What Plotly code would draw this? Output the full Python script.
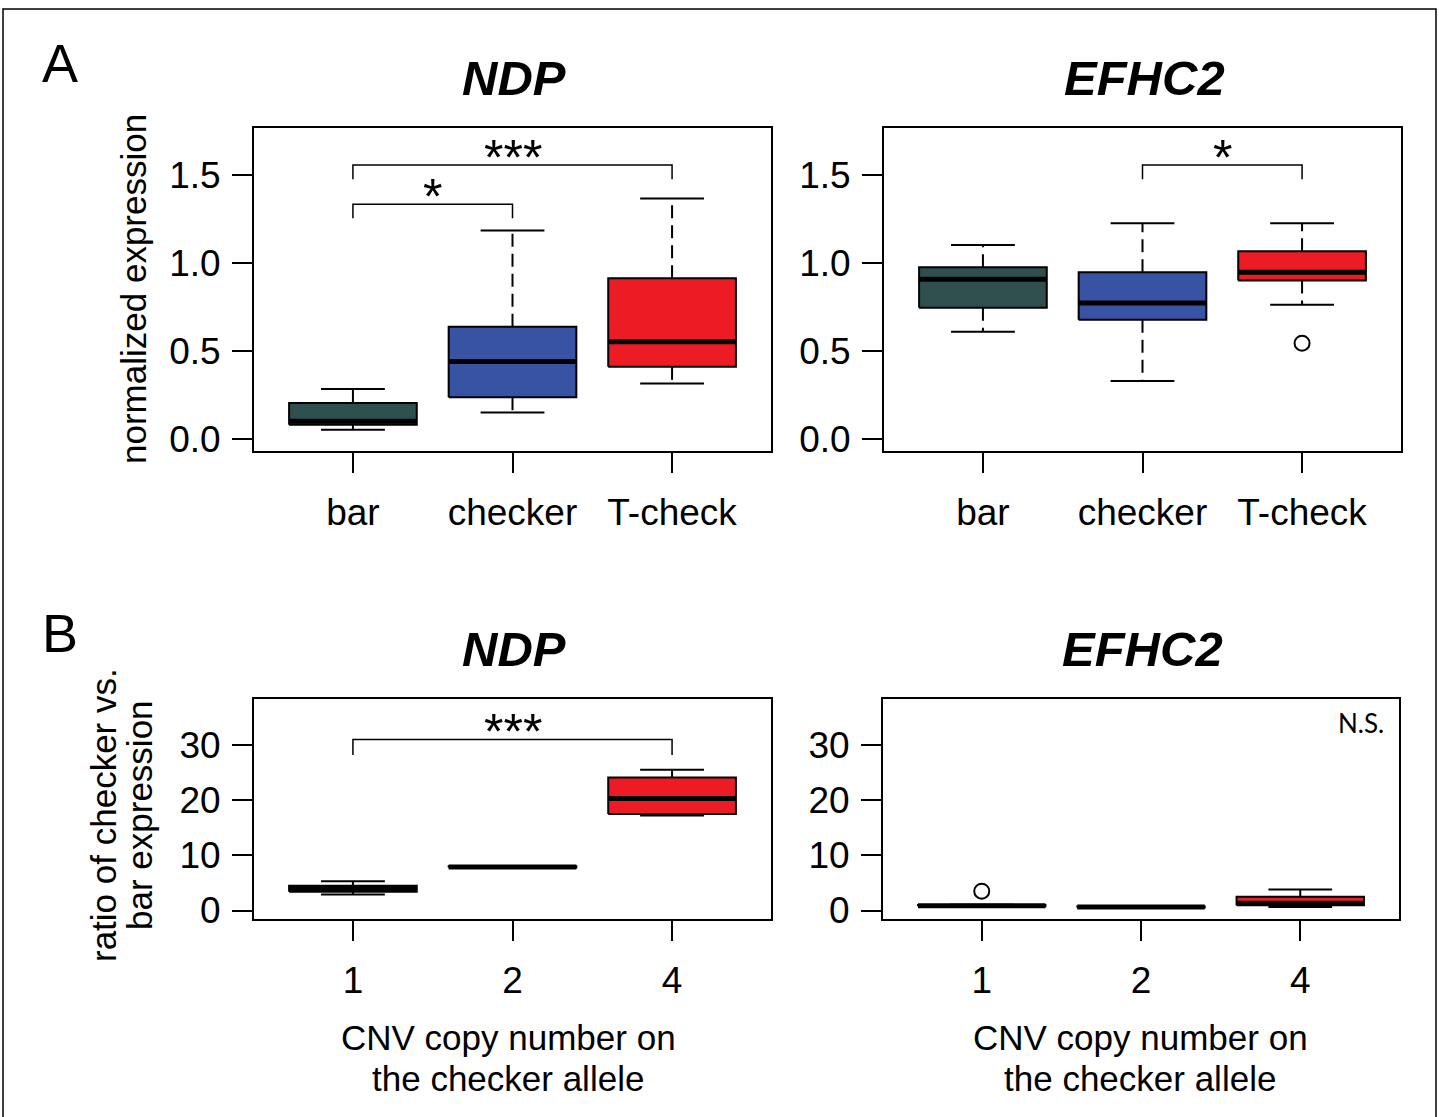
import plotly.graph_objects as go

W, H = 1439, 1117
FONT = "Liberation Sans, Arial, Helvetica, sans-serif"

# ---------------- data ----------------
groups_a = ["bar", "checker", "T-check"]
groups_b = ["1", "2", "4"]
group_colors = ["#2F4F4F", "#3953A4", "#ED1C24"]

# Panel A, NDP (normalized expression)
ndp_a_low = [0.055, 0.152, 0.316]
ndp_a_q1 = [0.083, 0.239, 0.411]
ndp_a_med = [0.102, 0.441, 0.553]
ndp_a_q3 = [0.206, 0.638, 0.913]
ndp_a_high = [0.286, 1.184, 1.365]
ndp_a_out = [[], [], []]

# Panel A, EFHC2 (normalized expression)
efhc2_a_low = [0.610, 0.331, 0.763]
efhc2_a_q1 = [0.746, 0.678, 0.900]
efhc2_a_med = [0.907, 0.773, 0.947]
efhc2_a_q3 = [0.975, 0.947, 1.066]
efhc2_a_high = [1.102, 1.225, 1.225]
efhc2_a_out = [[], [], [0.545]]

# Panel B, NDP (ratio checker vs bar)
ndp_b_low = [2.9, 7.8, 17.2]
ndp_b_q1 = [3.4, 7.8, 17.5]
ndp_b_med = [3.96, 7.9, 20.3]
ndp_b_q3 = [4.5, 8.0, 24.1]
ndp_b_high = [5.3, 8.0, 25.5]
ndp_b_out = [[], [], []]

# Panel B, EFHC2 (ratio checker vs bar)
efhc2_b_low = [0.70, 0.50, 0.64]
efhc2_b_q1 = [0.75, 0.55, 0.95]
efhc2_b_med = [0.87, 0.64, 1.30]
efhc2_b_q3 = [1.00, 0.72, 2.50]
efhc2_b_high = [1.05, 0.75, 3.80]
efhc2_b_out = [[3.5], [], []]

# significance brackets: (group index from, group index to, height, label)
ndp_a_sig = [(0, 1, 1.333, "*"), (0, 2, 1.555, "***")]
efhc2_a_sig = [(1, 2, 1.555, "*")]
ndp_b_sig = [(0, 2, 31.0, "***")]
efhc2_b_sig = []

a_ticks = [0.0, 0.5, 1.0, 1.5]
a_ticklabels = ["0.0", "0.5", "1.0", "1.5"]
b_ticks = [0, 10, 20, 30]
b_ticklabels = ["0", "10", "20", "30"]

# ---------------- figure ----------------
fig = go.Figure()

BOXW = 0.4   # half box width (R boxwex 0.8)
CAPW = 0.2   # half cap width


def add_panel(fig, ax, low, q1, med, q3, high, outs, sig, drop):
    xr, yr = "x" + ax, "y" + ax
    for i in range(len(med)):
        xc = i + 1
        col = group_colors[i]
        # whiskers (dashed)
        fig.add_trace(go.Scatter(
            x=[xc, xc, None, xc, xc], y=[q3[i], high[i], None, q1[i], low[i]],
            mode="lines", line=dict(color="black", width=2, dash="13px,7px"),
            xaxis=xr, yaxis=yr, showlegend=False, hoverinfo="skip"))
        # caps
        fig.add_trace(go.Scatter(
            x=[xc - CAPW, xc + CAPW, None, xc - CAPW, xc + CAPW],
            y=[high[i], high[i], None, low[i], low[i]],
            mode="lines", line=dict(color="black", width=2),
            xaxis=xr, yaxis=yr, showlegend=False, hoverinfo="skip"))
        # box
        fig.add_trace(go.Scatter(
            x=[xc - BOXW, xc + BOXW, xc + BOXW, xc - BOXW, xc - BOXW],
            y=[q1[i], q1[i], q3[i], q3[i], q1[i]],
            mode="lines", fill="toself", fillcolor=col,
            line=dict(color="black", width=2),
            xaxis=xr, yaxis=yr, showlegend=False, hoverinfo="skip"))
        # median
        fig.add_trace(go.Scatter(
            x=[xc - BOXW, xc + BOXW], y=[med[i], med[i]],
            mode="lines", line=dict(color="black", width=5),
            xaxis=xr, yaxis=yr, showlegend=False, hoverinfo="skip"))
        # outliers
        if outs[i]:
            fig.add_trace(go.Scatter(
                x=[xc] * len(outs[i]), y=outs[i], mode="markers",
                marker=dict(symbol="circle-open", size=15, color="black",
                            line=dict(width=2)),
                xaxis=xr, yaxis=yr, showlegend=False, hoverinfo="skip"))
    for a, b, h, lab in sig:
        xa, xb = a + 1, b + 1
        fig.add_trace(go.Scatter(
            x=[xa, xa, xb, xb], y=[h - drop, h, h, h - drop],
            mode="lines", line=dict(color="black", width=1.5),
            xaxis=xr, yaxis=yr, showlegend=False, hoverinfo="skip"))
        fig.add_annotation(x=(xa + xb) / 2, y=h, xref=xr, yref=yr,
                           text=lab, showarrow=False, xanchor="center",
                           yanchor="middle", yshift=7,
                           font=dict(family=FONT, size=50, color="black"))


add_panel(fig, "", ndp_a_low, ndp_a_q1, ndp_a_med, ndp_a_q3, ndp_a_high,
          ndp_a_out, ndp_a_sig, 0.08)
add_panel(fig, "2", efhc2_a_low, efhc2_a_q1, efhc2_a_med, efhc2_a_q3,
          efhc2_a_high, efhc2_a_out, efhc2_a_sig, 0.08)
add_panel(fig, "3", ndp_b_low, ndp_b_q1, ndp_b_med, ndp_b_q3, ndp_b_high,
          ndp_b_out, ndp_b_sig, 2.8)
add_panel(fig, "4", efhc2_b_low, efhc2_b_q1, efhc2_b_med, efhc2_b_q3,
          efhc2_b_high, efhc2_b_out, efhc2_b_sig, 2.8)


def px_x(a, b):
    return [a / W, b / W]


def px_y(top, bottom):
    return [1 - bottom / H, 1 - top / H]


common_axis = dict(showline=True, linewidth=2, linecolor="black", mirror=True,
                   ticks="outside", ticklen=20, tickwidth=2, tickcolor="black",
                   showgrid=False, zeroline=False, automargin=False,
                   tickfont=dict(family=FONT, size=37, color="black"))

xr = [0.38, 3.62]
ya_range = [-0.066, 1.765]
yb_range = [-1.54, 38.34]

layout_axes = {}
specs = [
    ("", px_x(254, 771), px_y(128, 451), groups_a, ya_range, a_ticks, a_ticklabels),
    ("2", px_x(884, 1401), px_y(128, 451), groups_a, ya_range, a_ticks, a_ticklabels),
    ("3", px_x(254, 771), px_y(699, 919), groups_b, yb_range, b_ticks, b_ticklabels),
    ("4", px_x(883, 1399), px_y(699, 919), groups_b, yb_range, b_ticks, b_ticklabels),
]
for ax, xd, yd, cats, yrng, yt, ytl in specs:
    layout_axes["xaxis" + ax] = dict(
        common_axis, domain=xd, range=xr, tickvals=[1, 2, 3], ticktext=cats,
        anchor="y" + ax, ticklabelstandoff=8)
    layout_axes["yaxis" + ax] = dict(
        common_axis, domain=yd, range=yrng, tickvals=yt, ticktext=ytl,
        anchor="x" + ax, ticklabelstandoff=4)

fig.update_layout(
    width=W, height=H,
    margin=dict(l=0, r=0, t=0, b=0, pad=0, autoexpand=False),
    paper_bgcolor="white", plot_bgcolor="white", showlegend=False,
    **layout_axes)


def ann(x, y, text, size, **kw):
    fig.add_annotation(x=x / W, y=1 - y / H, xref="paper", yref="paper",
                       text=text, showarrow=False, xanchor="center",
                       yanchor="middle",
                       font=dict(family=FONT, size=size, color="black"), **kw)


# panel letters and titles
ann(60, 63, "A", 54)
ann(60, 633, "B", 54)
ann(514, 78, "<b><i>NDP</i></b>", 49)
ann(1144, 78, "<b><i>EFHC2</i></b>", 49)
ann(514, 649, "<b><i>NDP</i></b>", 49)
ann(1142, 649, "<b><i>EFHC2</i></b>", 49)

# y-axis titles
ann(133, 289, "normalized expression", 35, textangle=-90)
ann(103, 815, "ratio of checker vs.", 35, textangle=-90)
ann(139, 815, "bar expression", 35, textangle=-90)

# x-axis titles (panel B)
for cx in (508, 1140):
    ann(cx, 1037, "CNV copy number on", 35)
    ann(cx, 1078, "the checker allele", 35)

# N.S. label
fig.add_annotation(x=3.38, y=34.0, xref="x4", yref="y4", text="N.S.",
                   showarrow=False, xanchor="center", yanchor="middle",
                   font=dict(family="Lato, Open Sans, sans-serif", size=26,
                             color="black"))

# outer frame
fig.add_shape(type="rect", xref="paper", yref="paper",
              x0=3 / W, x1=1436 / W, y0=-0.05, y1=1 - 9 / H,
              line=dict(color="black", width=1.5), fillcolor="rgba(0,0,0,0)")

fig.write_html(
    "out.html",
    config={"displayModeBar": False},
    post_script=(
        "document.documentElement.style.margin='0px';"
        "document.body.style.margin='0px';"
        "document.body.style.overflow='hidden';"
        "var d=document.getElementById('{plot_id}');"
        "d.style.position='fixed';d.style.top='0px';d.style.left='0px';"
    ),
)
